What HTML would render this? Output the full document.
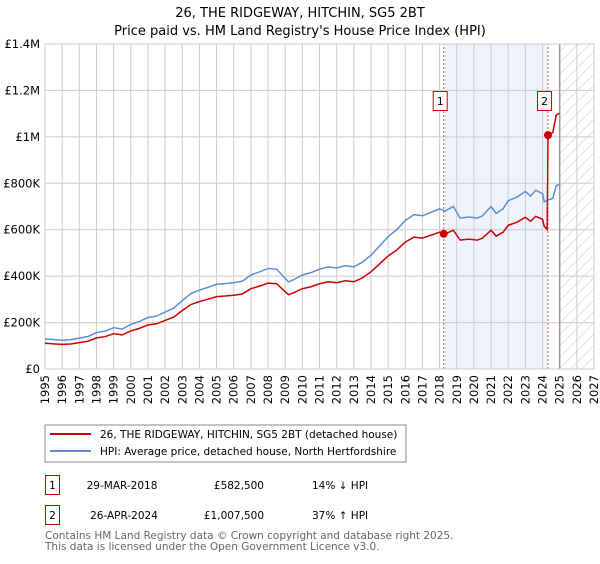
<!DOCTYPE html>
<html><head><meta charset="utf-8"><style>
body{margin:0;background:#fff;font-family:"DejaVu Sans","Liberation Sans",sans-serif;}
svg text{font-family:"DejaVu Sans","Liberation Sans",sans-serif;}
</style></head><body>
<svg id="c" width="600" height="560" viewBox="0 0 600 560" xmlns="http://www.w3.org/2000/svg">
<defs><pattern id="hatch" width="8" height="8" patternUnits="userSpaceOnUse" patternTransform="rotate(45)"><line x1="0" y1="0" x2="0" y2="8" stroke="#c8c8c8" stroke-width="1"/></pattern></defs>
<text x="300" y="17" text-anchor="middle" font-size="13">26, THE RIDGEWAY, HITCHIN, SG5 2BT</text>
<text x="300" y="35" text-anchor="middle" font-size="13">Price paid vs. HM Land Registry's House Price Index (HPI)</text>
<g id="plot"></g>
<rect x="45" y="425" width="361" height="37" fill="#fff" stroke="#888"/>
<line x1="50" y1="434" x2="91" y2="434" stroke="#cc0000" stroke-width="2"/>
<text x="100" y="438" font-size="10.5">26, THE RIDGEWAY, HITCHIN, SG5 2BT (detached house)</text>
<line x1="50" y1="451" x2="91" y2="451" stroke="#5b8dd6" stroke-width="2"/>
<text x="100" y="455" font-size="10.5">HPI: Average price, detached house, North Hertfordshire</text>
<g>
<rect x="45.5" y="475.5" width="14" height="19" fill="#fff" stroke="#cc0000"/>
<text x="52.5" y="489" text-anchor="middle" font-size="10.5">1</text>
<text x="122" y="489" text-anchor="middle" font-size="10.5">29-MAR-2018</text>
<text x="264" y="489" text-anchor="end" font-size="10.5">£582,500</text>
<text x="312" y="489" font-size="10.5">14% ↓ HPI</text></g>
<g>
<rect x="45.5" y="505.5" width="14" height="19" fill="#fff" stroke="#cc0000"/>
<text x="52.5" y="519" text-anchor="middle" font-size="10.5">2</text>
<text x="124" y="519" text-anchor="middle" font-size="10.5">26-APR-2024</text>
<text x="264" y="519" text-anchor="end" font-size="10.5">£1,007,500</text>
<text x="312" y="519" font-size="10.5">37% ↑ HPI</text></g>
<text x="45" y="539" font-size="10.5" fill="#666">Contains HM Land Registry data © Crown copyright and database right 2025.</text>
<text x="45" y="550" font-size="10.5" fill="#666">This data is licensed under the Open Government Licence v3.0.</text>
</svg>
<script>
const hpiT=[1995,1995.5,1996,1996.5,1997,1997.5,1998,1998.5,1999,1999.5,2000,2000.5,2001,2001.5,2002,2002.5,2003,2003.5,2004,2004.5,2005,2005.5,2006,2006.5,2007,2007.5,2008,2008.5,2009,2009.2,2009.5,2010,2010.5,2011,2011.5,2012,2012.5,2013,2013.5,2014,2014.5,2015,2015.5,2016,2016.5,2017,2017.5,2018,2018.3,2018.8,2019.2,2019.7,2020.2,2020.5,2021,2021.3,2021.7,2022,2022.5,2023,2023.3,2023.6,2024,2024.1,2024.4,2024.6,2024.8,2025];
const hpiV=[130,127,124,126,133,140,157,163,178,172,192,205,222,228,245,262,295,325,340,352,365,368,372,378,405,418,433,430,390,375,385,405,415,430,440,435,445,440,460,490,530,570,600,640,665,660,675,690,680,700,650,655,650,660,700,670,690,725,740,765,745,770,755,720,730,735,790,795];
const saleT=[2018.24,2024.32];
const saleV=[582.5,1007.5];
const yTicks=[0,200,400,600,800,1000,1200,1400];
const yLabels=["£0","£200K","£400K","£600K","£800K","£1M","£1.2M","£1.4M"];
const years=[1995,1996,1997,1998,1999,2000,2001,2002,2003,2004,2005,2006,2007,2008,2009,2010,2011,2012,2013,2014,2015,2016,2017,2018,2019,2020,2021,2022,2023,2024,2025,2026,2027];
const X=t=>45+(t-1995)*549/32, Y=v=>369-v*325/1400;
const NS="http://www.w3.org/2000/svg",g=document.getElementById('plot');
function mk(tag,a,p){const e=document.createElementNS(NS,tag);for(const k in a)e.setAttribute(k,a[k]);(p||g).appendChild(e);return e;}
function hpiAt(t){for(let i=1;i<hpiT.length;i++)if(t<=hpiT[i]){const f=(t-hpiT[i-1])/(hpiT[i]-hpiT[i-1]);return hpiV[i-1]+f*(hpiV[i]-hpiV[i-1]);}return hpiV[hpiV.length-1];}
let e=mk('rect',{x:X(saleT[0]),y:Y(1400),width:X(saleT[1])-X(saleT[0]),height:Y(0)-Y(1400),fill:'#eef3fc'});


e=mk('rect',{x:X(2025),y:Y(1400),width:X(2027)-X(2025),height:Y(0)-Y(1400),fill:'url(#hatch)'});


yTicks.forEach((v,i)=>{
 mk('line',{x1:45,x2:X(2027),y1:Y(v),y2:Y(v),stroke:'#ccc'});
 const t=mk('text',{x:40,y:Y(v)+4,'text-anchor':'end','font-size':'11.5'});t.textContent=yLabels[i];
 
 
});
years.forEach(y=>{
 mk('line',{y1:Y(0),y2:Y(1400),x1:X(y),x2:X(y),stroke:'#ccc'});
 const t=mk('text',{x:0,y:0,'text-anchor':'end','font-size':'11.5',transform:`translate(${X(y)+4},${Y(0)+6}) rotate(-90)`});t.textContent=y;
 
 
});
mk('line',{x1:X(2025),x2:X(2025),y1:Y(0),y2:Y(1400),stroke:'#999','stroke-width':1.5});
saleT.forEach((s,i)=>{
 mk('line',{x1:X(s),x2:X(s),y1:Y(0),y2:Y(1400),stroke:'#e06060','stroke-dasharray':'2,2'});
 const b=mk('g',{});
 
 
 mk('rect',{x:X(s)-10.5,y:91.5,width:14,height:19,fill:'#fff',stroke:'#cc0000'},b);
 const t=mk('text',{x:X(s)-3.5,y:105,'text-anchor':'middle','font-size':'11'},b);t.textContent=i+1;
});
mk('rect',{x:45,y:Y(1400),width:X(2027)-45,height:Y(0)-Y(1400),fill:'none',stroke:'#ccc'});
let hp=hpiT.map((t,i)=>X(t)+','+Y(hpiV[i])).join(' ');
e=mk('polyline',{points:hp,fill:'none',stroke:'#5b8dd6','stroke-width':1.5});


const r0=saleV[0]/hpiAt(saleT[0]),r1=saleV[1]/hpiAt(saleT[1]);
let pts=[];
hpiT.forEach((t,i)=>{ if(t<saleT[1]) pts.push([t,hpiV[i]*r0]); });
pts.push([saleT[1]-0.05,hpiAt(saleT[1]-0.05)*r0*0.97]);
pts.push([saleT[1],saleV[1]]);
hpiT.forEach((t,i)=>{ if(t>saleT[1]) pts.push([t,hpiV[i]*r1]); });
e=mk('polyline',{points:pts.map(p=>X(p[0])+','+Y(p[1])).join(' '),fill:'none',stroke:'#cc0000','stroke-width':1.5});


saleT.forEach((s,i)=>{
 const c=mk('circle',{cx:X(s),cy:Y(saleV[i]),r:4,fill:'#cc0000'});
 
 
});
</script>
</body></html>
